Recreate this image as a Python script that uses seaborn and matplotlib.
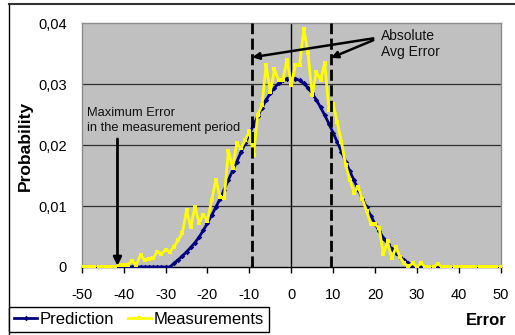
import matplotlib
matplotlib.use('Agg')
import pandas as pd
import seaborn as sns
import matplotlib.pyplot as plt
from matplotlib.lines import Line2D
from matplotlib.ticker import FuncFormatter

# error bins (-50 .. 50)
errors = list(range(-50, 51))

prediction = [
    0.0, 0.0, 0.0, 0.0, 0.0, 0.0, 0.0, 0.0, 0.0, 0.0,                     # -50..-41
    0.0, 0.0, 0.0, 0.0, 0.0, 0.0, 0.0, 0.0, 0.0, 0.0,                     # -40..-31
    0.0, 0.0, 0.0006, 0.0012, 0.0018, 0.0025, 0.0032, 0.0040, 0.0049, 0.0060,  # -30..-21
    0.0072, 0.0085, 0.0098, 0.0112, 0.0127, 0.0143, 0.0158, 0.0173, 0.0188, 0.0203,  # -20..-11
    0.0218, 0.0233, 0.0247, 0.0261, 0.0274, 0.0285, 0.0294, 0.0301, 0.0306, 0.0309,  # -10..-1
    0.0310,                                                               # 0
    0.0309, 0.0306, 0.0301, 0.0294, 0.0285, 0.0274, 0.0262, 0.0249, 0.0235, 0.0220,  # 1..10
    0.0205, 0.0189, 0.0173, 0.0157, 0.0142, 0.0127, 0.0112, 0.0098, 0.0084, 0.0071,  # 11..20
    0.0059, 0.0048, 0.0038, 0.0030, 0.0023, 0.0017, 0.0011, 0.0006, 0.0002, 0.0,     # 21..30
    0.0, 0.0, 0.0, 0.0, 0.0, 0.0, 0.0, 0.0, 0.0, 0.0,                     # 31..40
    0.0, 0.0, 0.0, 0.0, 0.0, 0.0, 0.0, 0.0, 0.0, 0.0,                     # 41..50
]

measurements = [
    0.0, 0.0, 0.0, 0.0, 0.0, 0.0, 0.0, 0.0, 0.0, 0.0003,                  # -50..-41
    0.0003, 0.0004, 0.0010, 0.0003, 0.0020, 0.0011, 0.0013, 0.0014, 0.0025, 0.0022,  # -40..-31
    0.0028, 0.0025, 0.0033, 0.0044, 0.0056, 0.0093, 0.0065, 0.0099, 0.0072, 0.0086,  # -30..-21
    0.0076, 0.0110, 0.0143, 0.0115, 0.0113, 0.0191, 0.0162, 0.0203, 0.0195, 0.0208,  # -20..-11
    0.0223, 0.0184, 0.0250, 0.0265, 0.0331, 0.0287, 0.0324, 0.0306, 0.0307, 0.0340,  # -10..-1
    0.0298,                                                               # 0
    0.0331, 0.0331, 0.0390, 0.0351, 0.0282, 0.0320, 0.0307, 0.0335, 0.0257, 0.0268,  # 1..10
    0.0237, 0.0205, 0.0167, 0.0143, 0.0122, 0.0132, 0.0111, 0.0092, 0.0071, 0.0070,  # 11..20
    0.0064, 0.0021, 0.0042, 0.0014, 0.0032, 0.0016, 0.0006, 0.0001, 0.0006, 0.0,     # 21..30
    0.0006, 0.0, 0.0, 0.0, 0.0005, 0.0, 0.0, 0.0, 0.0, 0.0,               # 31..40
    0.0, 0.0, 0.0, 0.0, 0.0, 0.0, 0.0, 0.0, 0.0, 0.0,                     # 41..50
]

abs_avg_error = [-9.3, 9.5]
max_error = -41.5

x_ticks = list(range(-50, 51, 10))
y_ticks = [0, 0.01, 0.02, 0.03, 0.04]

df = pd.DataFrame({'Error': errors, 'Prediction': prediction, 'Measurements': measurements})

plt.rcParams['font.family'] = ['Liberation Sans', 'DejaVu Sans']

fig = plt.figure(figsize=(5.15, 3.35), dpi=100)
ax = fig.add_axes([0.159, 0.203, 0.813, 0.728])
ax.set_facecolor('#C0C0C0')

# grid + axis crossing at 0
for v in y_ticks[1:-1]:
    ax.axhline(v, color='#303030', lw=0.9, zorder=1)
ax.axvline(0, color='black', lw=1, zorder=1)

sns.lineplot(data=df, x='Error', y='Prediction', ax=ax, color='#000080', lw=2,
             marker='D', markersize=2.8, markeredgewidth=0, zorder=3)
sns.lineplot(data=df, x='Error', y='Measurements', ax=ax, color='#FFFF00', lw=2,
             marker='s', markersize=3.4, markeredgewidth=0, zorder=4)

for v in abs_avg_error:
    ax.axvline(v, color='black', lw=2, linestyle=(0, (4, 1.6)), zorder=5)

ax.set_xlim(-50, 50)
ax.set_ylim(0, 0.04)
ax.set_xticks(x_ticks)
ax.set_yticks(y_ticks)
ax.xaxis.set_major_formatter(FuncFormatter(lambda v, p: f'{v:.0f}'))
ax.yaxis.set_major_formatter(FuncFormatter(lambda v, p: '0' if v == 0 else f'{v:.2f}'.replace('.', ',')))
ax.tick_params(axis='x', length=4, width=1, direction='out', pad=11, labelsize=10.5)
ax.tick_params(axis='y', length=0, pad=11, labelsize=10.5)
ax.set_xlabel('')
ax.set_ylabel('')

for s in ['top', 'right', 'left']:
    ax.spines[s].set_color('#8C8C8C')
    ax.spines[s].set_linewidth(1)
ax.spines['bottom'].set_color('black')
ax.spines['bottom'].set_linewidth(1)

# annotations
ax.text(-48.8, 0.0262, 'Maximum Error\nin the measurement period', fontsize=9.3,
        ha='left', va='top', linespacing=1.25, color='#111111', zorder=6)
ax.annotate('', xy=(max_error, 0.0002), xytext=(max_error, 0.0210),
            arrowprops=dict(arrowstyle='-|>', lw=2, color='black', mutation_scale=12,
                            shrinkA=0, shrinkB=0), zorder=6)

ax.text(21.5, 0.0390, 'Absolute\nAvg Error', fontsize=10, ha='left', va='top',
        linespacing=1.15, color='#111111', zorder=6)
ax.annotate('', xy=(abs_avg_error[0], 0.0344), xytext=(19.6, 0.0375),
            arrowprops=dict(arrowstyle='-|>', lw=1.8, color='black', mutation_scale=10,
                            shrinkA=0, shrinkB=0), zorder=6)
ax.annotate('', xy=(abs_avg_error[1], 0.0343), xytext=(19.6, 0.0372),
            arrowprops=dict(arrowstyle='-|>', lw=1.8, color='black', mutation_scale=10,
                            shrinkA=0, shrinkB=0), zorder=6)

fig.text(0.049, 0.564, 'Probability', rotation=90, ha='center', va='center',
         fontsize=12.5, fontweight='bold')
fig.text(0.984, 0.042, 'Error', ha='right', va='center', fontsize=12, fontweight='bold')

# legend at the bottom left
handles = [Line2D([], [], color='#000080', lw=2, marker='D', markersize=2.8, markeredgewidth=0),
           Line2D([], [], color='#FFFF00', lw=2, marker='s', markersize=3.4, markeredgewidth=0)]
leg = fig.legend(handles, ['Prediction', 'Measurements'], ncol=2, loc='lower left',
                 bbox_to_anchor=(0.0175, 0.009), fontsize=12, frameon=True, fancybox=False,
                 edgecolor='black', framealpha=1, borderpad=0.3, handlelength=1.4,
                 handletextpad=0.15, columnspacing=0.8, numpoints=1, borderaxespad=0)
leg.get_frame().set_linewidth(1)

# outer chart border
fig.add_artist(Line2D([9 / 515, 9 / 515], [0, 331 / 335], transform=fig.transFigure,
                      color='black', lw=1))
fig.add_artist(Line2D([9 / 515, 1], [331 / 335, 331 / 335], transform=fig.transFigure,
                      color='#333333', lw=1.5))

fig.savefig('out.png', dpi=100)
